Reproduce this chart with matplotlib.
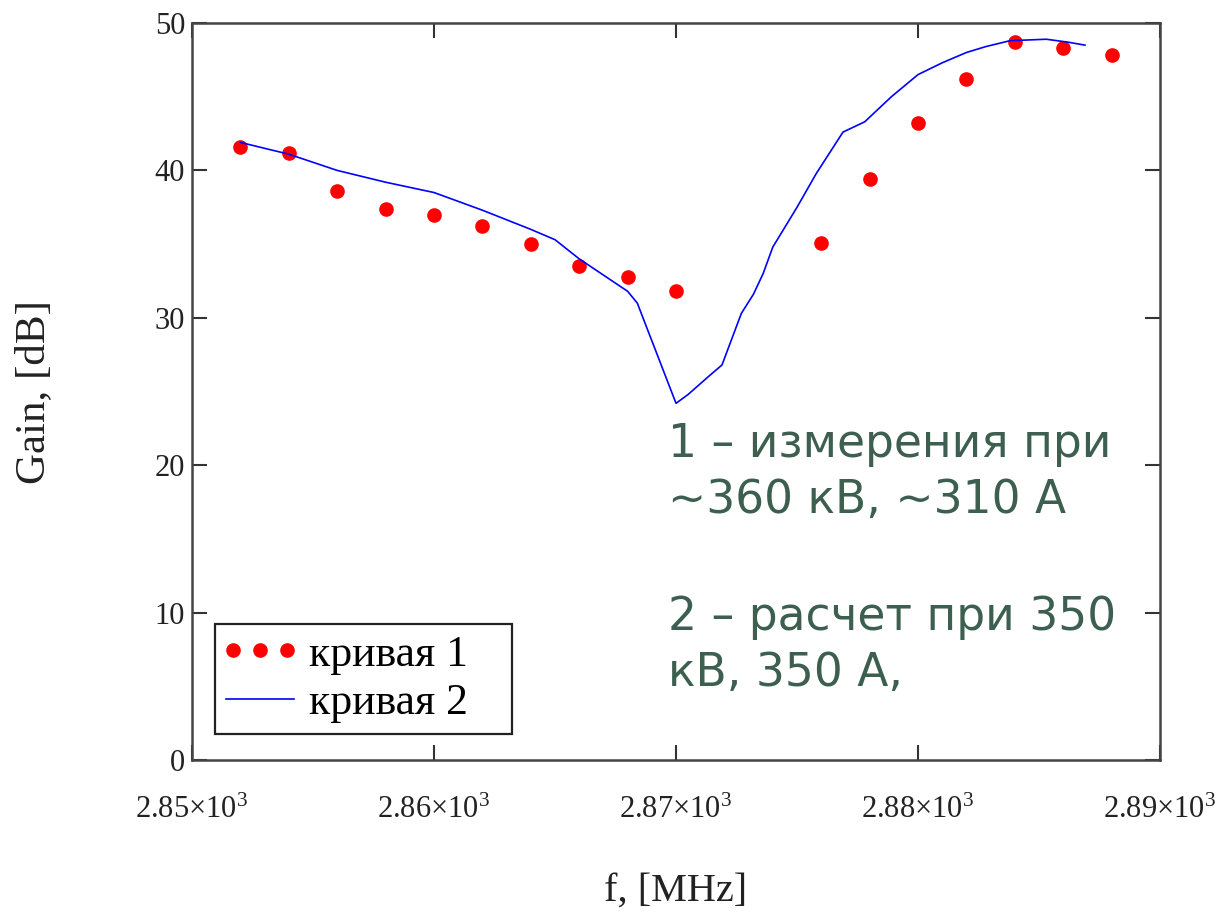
import numpy as np
import matplotlib
matplotlib.use("Agg")
import matplotlib.pyplot as plt
from matplotlib.ticker import FixedLocator, FuncFormatter
from matplotlib.legend_handler import HandlerLine2D

# measured gain (curve 1)
f_meas = [2852, 2854, 2856, 2858, 2860, 2862, 2864, 2866, 2868, 2870,
          2876, 2878, 2880, 2882, 2884, 2886, 2888]
g_meas = [41.6, 41.2, 38.6, 37.4, 37.0, 36.2, 35.0, 33.5, 32.8, 31.8,
          35.1, 39.4, 43.2, 46.2, 48.7, 48.3, 47.8]

# calculated gain (curve 2)
f_calc = [2852, 2854, 2856, 2858, 2860, 2862, 2864, 2865, 2866, 2868,
          2868.4, 2870, 2870.5, 2871.4, 2871.9, 2872.7, 2873.2, 2873.6,
          2874, 2875, 2875.8, 2876.9, 2877.8, 2878.9, 2880, 2881, 2882,
          2882.8, 2883.8, 2885.3, 2886.2, 2886.9]
g_calc = [41.9, 41.1, 40.0, 39.2, 38.5, 37.3, 36.0, 35.3, 34.0, 31.8,
          31.0, 24.2, 24.8, 26.1, 26.8, 30.3, 31.6, 33.0,
          34.8, 37.5, 39.8, 42.6, 43.3, 45.0, 46.5, 47.3, 48.0,
          48.4, 48.8, 48.9, 48.7, 48.5]

x_ticks = [2850, 2860, 2870, 2880, 2890]
y_ticks = [0, 10, 20, 30, 40, 50]

note_lines = ["1 – измерения при", "~360 кВ, ~310 А",
              "2 – расчет при 350", "кВ, 350 А,"]

plt.rcParams["font.family"] = ["Liberation Serif", "DejaVu Serif"]
plt.rcParams["mathtext.fontset"] = "custom"
plt.rcParams["mathtext.rm"] = "Liberation Serif"

fig = plt.figure(figsize=(12.3, 9.17), dpi=100)
ax = fig.add_axes([0.1561, 0.1712, 0.787, 0.8037])

# trailing spaces widen the legend box like the Mathcad original
meas, = ax.plot(f_meas, g_meas, "o", color="#ff0000", markersize=9.5,
                label="кривая 1   ")
calc, = ax.plot(f_calc, g_calc, "-", color="#0000ff", linewidth=1.2,
                label="кривая 2   ")

ax.set_xlim(2850, 2890)
ax.set_ylim(0, 50)
ax.xaxis.set_major_locator(FixedLocator(x_ticks))
ax.yaxis.set_major_locator(FixedLocator(y_ticks))
ax.xaxis.set_major_formatter(FuncFormatter(
    lambda v, p: r"$\mathrm{%.2f{\times}10^{3}}$" % (v / 1000)))

ax.tick_params(axis="both", direction="in", length=11, width=1.5,
               color="#333333", labelcolor="#222222", labelsize=22,
               top=True, right=True)
ax.tick_params(axis="x", pad=26)
ax.tick_params(axis="y", pad=5)
for s in ax.spines.values():
    s.set_linewidth(1.8)
    s.set_color("#444444")

ax.set_xlabel("f, [MHz]", fontsize=29, labelpad=34, color="#222222")
ax.set_ylabel("Gain, [dB]", fontsize=31, labelpad=73, color="#222222")

leg = ax.legend(loc="lower left", bbox_to_anchor=(0.024, 0.035),
                borderaxespad=0, fontsize=31.5, numpoints=3, fancybox=False,
                framealpha=1, edgecolor="#222222", handlelength=1.55,
                handletextpad=0.34, borderpad=0.25, labelspacing=0.2,
                handler_map={meas: HandlerLine2D(marker_pad=0.15),
                             calc: HandlerLine2D(marker_pad=0.0)})
leg.get_frame().set_linewidth(1.6)

note_y = [457, 513, 630, 686]
for txt, yp in zip(note_lines, note_y):
    fig.text(668 / 1230, 1 - yp / 917, txt, fontsize=32.8, color="#3d5f4f",
             family=["DejaVu Sans"], va="baseline", ha="left")

fig.savefig("out.png", dpi=100)
